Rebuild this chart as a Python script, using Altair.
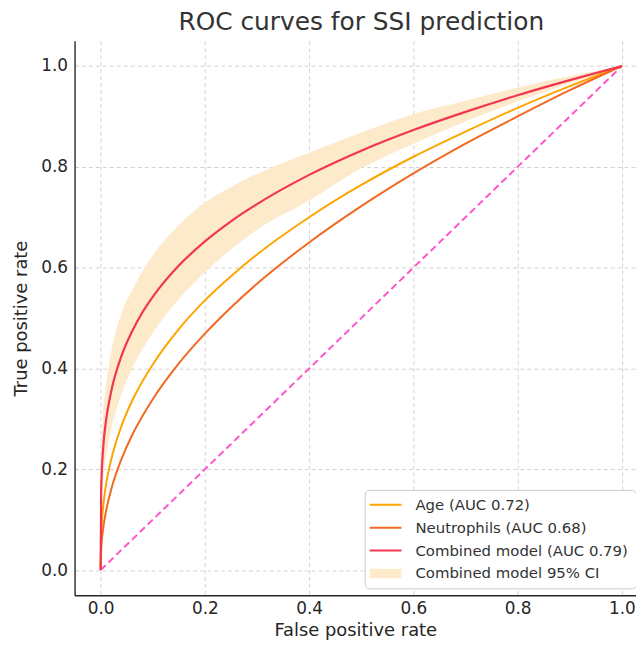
import altair as alt
import pandas as pd

# ---- data ----
fpr = [0, 0.001, 0.005, 0.01, 0.02, 0.04, 0.06, 0.08, 0.1, 0.15, 0.2, 0.25, 0.3, 0.4, 0.5, 0.6, 0.7, 0.8, 0.9, 1.0]
tpr_age = [0, 0.068, 0.127, 0.167, 0.218, 0.286, 0.335, 0.374, 0.408, 0.478, 0.535, 0.583, 0.626, 0.700, 0.764, 0.820, 0.870, 0.917, 0.960, 1.0]
tpr_neut = [0, 0.039, 0.083, 0.115, 0.159, 0.220, 0.267, 0.305, 0.339, 0.410, 0.469, 0.521, 0.568, 0.650, 0.722, 0.787, 0.846, 0.900, 0.952, 1.0]
tpr_comb = [0, 0.159, 0.244, 0.294, 0.353, 0.425, 0.473, 0.511, 0.542, 0.604, 0.652, 0.692, 0.726, 0.784, 0.832, 0.873, 0.909, 0.942, 0.972, 1.0]
ci_high = [0, 0.219, 0.312, 0.363, 0.431, 0.509, 0.554, 0.593, 0.624, 0.684, 0.729, 0.760, 0.786, 0.828, 0.868, 0.905, 0.931, 0.957, 0.980, 1.0]
ci_low = [0, 0.104, 0.177, 0.222, 0.278, 0.349, 0.399, 0.438, 0.471, 0.538, 0.591, 0.636, 0.675, 0.733, 0.797, 0.846, 0.890, 0.930, 0.966, 1.0]
chance_fpr = [0.0, 1.0]
chance_tpr = [0.0, 1.0]

series_labels = ["Age (AUC 0.72)", "Neutrophils (AUC 0.68)",
                 "Combined model (AUC 0.79)", "Combined model 95% CI"]
tick_values = [0.0, 0.2, 0.4, 0.6, 0.8, 1.0]

# ---- styles ----
c_age = "#FFA500"
c_neut = "#F26A22"
c_comb = "#F2364F"
c_band = "#FDEACB"
c_chance = "#FF55C8"
series_colors = [c_age, c_neut, c_comb, c_band]
line_sym = "M-2,-0.125L2,-0.125L2,0.125L-2,0.125Z"
rect_sym = "M-2,-0.6L2,-0.6L2,0.6L-2,0.6Z"
series_shapes = [line_sym, line_sym, line_sym, rect_sym]

curves = pd.DataFrame({"fpr": fpr, "age": tpr_age, "neut": tpr_neut,
                       "comb": tpr_comb, "lo": ci_low, "hi": ci_high})
chance = pd.DataFrame({"fpr": chance_fpr, "tpr": chance_tpr})
legend_df = pd.DataFrame({"series": series_labels,
                          "fpr": [1.0] * len(series_labels),
                          "tpr": [1.0] * len(series_labels)})

xscale = alt.Scale(domain=[-0.05, 1.027], nice=False, zero=False)
yscale = alt.Scale(domain=[-0.05, 1.05], nice=False, zero=False)

x_axis = alt.Axis(title="False positive rate", values=tick_values, format=".1f",
                  labelPadding=5, titlePadding=5)
y_axis = alt.Axis(title="True positive rate", values=tick_values, format=".1f",
                  labelPadding=7, titlePadding=10)

X = alt.X("fpr:Q", scale=xscale, axis=x_axis)


def Y(field):
    return alt.Y(f"{field}:Q", scale=yscale, axis=y_axis)


band = alt.Chart(curves).mark_area(color=c_band, opacity=1, interpolate="monotone").encode(
    x=X, y=Y("lo"), y2="hi:Q")

chance_line = alt.Chart(chance).mark_line(color=c_chance, strokeWidth=2, strokeDash=[7, 4]).encode(
    x=X, y=Y("tpr"))

age_line = alt.Chart(curves).mark_line(color=c_age, strokeWidth=2, interpolate="monotone").encode(
    x=X, y=Y("age"))
neut_line = alt.Chart(curves).mark_line(color=c_neut, strokeWidth=2, interpolate="monotone").encode(
    x=X, y=Y("neut"))
comb_line = alt.Chart(curves).mark_line(color=c_comb, strokeWidth=2.2, interpolate="monotone").encode(
    x=X, y=Y("comb"))

leg = alt.Legend(title=None, orient="none", legendX=292, legendY=452,
                 fillColor="white", strokeColor="#cccccc", cornerRadius=4, padding=7,
                 labelFont="DejaVu Sans", labelFontSize=15, labelColor="#333333",
                 symbolSize=256, symbolStrokeWidth=0, symbolOpacity=1,
                 symbolOffset=6, labelOffset=22, rowPadding=7, labelLimit=400)

legend_layer = alt.Chart(legend_df).mark_point(filled=True, opacity=0).encode(
    x=X, y=Y("tpr"),
    color=alt.Color("series:N", scale=alt.Scale(domain=series_labels, range=series_colors),
                    legend=leg, sort=series_labels),
    shape=alt.Shape("series:N", scale=alt.Scale(domain=series_labels, range=series_shapes),
                    legend=leg, sort=series_labels),
)

chart = alt.layer(band, chance_line, age_line, neut_line, comb_line, legend_layer).properties(
    width=565, height=558,
    title=alt.Title("ROC curves for SSI prediction", fontSize=25, font="DejaVu Sans",
                    color="#333333", fontWeight="normal", offset=6, dx=6),
    autosize=alt.AutoSizeParams(type="none"),
    padding={"left": 67, "top": 31, "right": 0, "bottom": 45},
).configure_view(stroke=None).configure_axis(
    labelFont="DejaVu Sans", labelFontSize=17, labelColor="#262626",
    titleFont="DejaVu Sans", titleFontSize=18, titleColor="#262626", titleFontWeight="normal",
    domainColor="#262626", domainWidth=1.4, ticks=False,
    gridColor="#c8c8c8", gridDash=[4, 3], gridWidth=0.8,
)

chart.save("out.html", embed_options={"renderer": "svg", "actions": False})
